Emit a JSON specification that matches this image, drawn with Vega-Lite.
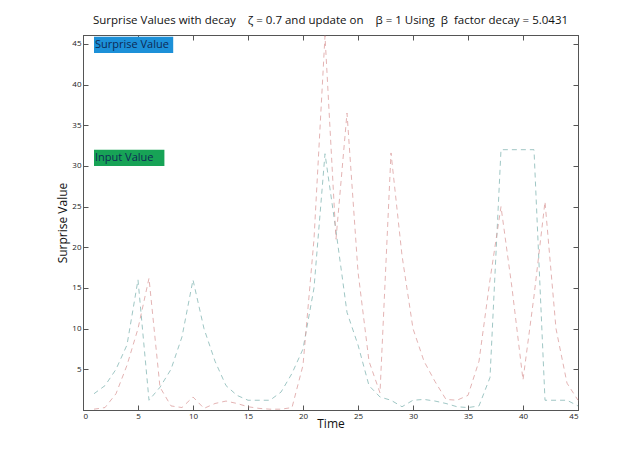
{
  "$schema": "https://vega.github.io/schema/vega-lite/v6.json",
  "autosize": {"type": "none"},
  "width": 495,
  "height": 375,
  "padding": {"left": 83, "top": 35, "right": 62, "bottom": 50},
  "background": "white",
  "config": {
    "font": "Open Sans",
    "view": {"stroke": "#555", "strokeWidth": 1},
    "axis": {"labelFont": "Open Sans", "titleFont": "Open Sans", "grid": false, "domainColor": "#555", "tickColor": "#555", "labelColor": "#222", "labelFontSize": 8, "titleFontWeight": "normal", "titleColor": "#111"}
  },
  "title": {
    "text": "Surprise Values with decay \u00a0\u00a0\u00a0ζ = 0.7 and update on \u00a0\u00a0\u00a0β = 1 Using \u00a0β \u00a0factor decay = 5.0431",
    "fontSize": 11.5, "fontWeight": "normal", "font": "Open Sans", "color": "#111", "offset": 7, "anchor": "middle"
  },
  "datasets": {
    "series": [
      {"t":1,"v":2,"s":"B"},{"t":2,"v":3,"s":"B"},{"t":3,"v":5,"s":"B"},{"t":4,"v":8,"s":"B"},{"t":5,"v":16,"s":"B"},
      {"t":6,"v":1.2,"s":"B"},{"t":7,"v":2.8,"s":"B"},{"t":8,"v":5,"s":"B"},{"t":9,"v":9,"s":"B"},{"t":10,"v":16,"s":"B"},
      {"t":11,"v":10,"s":"B"},{"t":12,"v":6,"s":"B"},{"t":13,"v":3,"s":"B"},{"t":14,"v":1.8,"s":"B"},{"t":15,"v":1.2,"s":"B"},
      {"t":16,"v":1.2,"s":"B"},{"t":17,"v":1.2,"s":"B"},{"t":18,"v":2.2,"s":"B"},{"t":19,"v":4.5,"s":"B"},{"t":20,"v":7.5,"s":"B"},
      {"t":21,"v":15,"s":"B"},{"t":22,"v":31.5,"s":"B"},{"t":23,"v":22,"s":"B"},{"t":24,"v":12,"s":"B"},{"t":25,"v":8,"s":"B"},
      {"t":26,"v":3,"s":"B"},{"t":27,"v":1.6,"s":"B"},{"t":28,"v":1.2,"s":"B"},{"t":29,"v":0.4,"s":"B"},{"t":30,"v":1.2,"s":"B"},
      {"t":31,"v":1.3,"s":"B"},{"t":32,"v":1.1,"s":"B"},{"t":33,"v":0.8,"s":"B"},{"t":34,"v":0.4,"s":"B"},{"t":35,"v":0.3,"s":"B"},
      {"t":36,"v":0.5,"s":"B"},{"t":37,"v":4,"s":"B"},{"t":38,"v":32,"s":"B"},{"t":39,"v":32,"s":"B"},{"t":40,"v":32,"s":"B"},
      {"t":41,"v":32,"s":"B"},{"t":42,"v":1.2,"s":"B"},{"t":43,"v":1.2,"s":"B"},{"t":44,"v":1.2,"s":"B"},{"t":45,"v":0.5,"s":"B"},
      {"t":1,"v":0.1,"s":"R"},{"t":2,"v":0.3,"s":"R"},{"t":3,"v":2,"s":"R"},{"t":4,"v":5.5,"s":"R"},{"t":5,"v":10,"s":"R"},
      {"t":6,"v":16.2,"s":"R"},{"t":7,"v":2.8,"s":"R"},{"t":8,"v":0.5,"s":"R"},{"t":9,"v":0.3,"s":"R"},{"t":10,"v":1.6,"s":"R"},
      {"t":11,"v":0.2,"s":"R"},{"t":12,"v":0.8,"s":"R"},{"t":13,"v":1.1,"s":"R"},{"t":14,"v":0.8,"s":"R"},{"t":15,"v":0.4,"s":"R"},
      {"t":16,"v":0.2,"s":"R"},{"t":17,"v":0.1,"s":"R"},{"t":18,"v":0.1,"s":"R"},{"t":19,"v":0.3,"s":"R"},{"t":20,"v":5.5,"s":"R"},
      {"t":21,"v":21,"s":"R"},{"t":22,"v":46,"s":"R"},{"t":23,"v":21,"s":"R"},{"t":24,"v":36.5,"s":"R"},{"t":25,"v":17,"s":"R"},
      {"t":26,"v":6,"s":"R"},{"t":27,"v":2.1,"s":"R"},{"t":28,"v":31.6,"s":"R"},{"t":29,"v":19,"s":"R"},{"t":30,"v":10,"s":"R"},
      {"t":31,"v":6,"s":"R"},{"t":32,"v":3.5,"s":"R"},{"t":33,"v":1.3,"s":"R"},{"t":34,"v":1.2,"s":"R"},{"t":35,"v":1.8,"s":"R"},
      {"t":36,"v":6,"s":"R"},{"t":37,"v":16,"s":"R"},{"t":38,"v":25,"s":"R"},{"t":39,"v":15,"s":"R"},{"t":40,"v":3.7,"s":"R"},
      {"t":41,"v":14,"s":"R"},{"t":42,"v":25.6,"s":"R"},{"t":43,"v":10,"s":"R"},{"t":44,"v":3.3,"s":"R"},{"t":45,"v":1.2,"s":"R"}
    ],
    "labels": [
      {"label":"Surprise Value","x1":1,"x2":8.2,"y1":43.9,"y2":45.9,"c":"#1c90d8"},
      {"label":"Input Value","x1":1,"x2":7.4,"y1":30,"y2":32,"c":"#17a356"}
    ]
  },
  "resolve": {"axis": {"x": "independent", "y": "independent"}},
  "layer": [
    {
      "data": {"name": "series"},
      "mark": {"type": "line", "strokeWidth": 1, "strokeDash": [5, 4], "opacity": 0.75},
      "encoding": {
        "x": {"field": "t", "type": "quantitative", "scale": {"domain": [0, 45], "nice": false},
          "axis": {"title": "Time", "titleFontSize": 12, "titlePadding": -2, "values": [0,5,10,15,20,25,30,35,40,45], "tickSize": -5, "labelPadding": 7}},
        "y": {"field": "v", "type": "quantitative", "scale": {"domain": [0, 46.1], "nice": false},
          "axis": {"title": "Surprise Value", "titleFontSize": 12, "titlePadding": 2, "values": [5,10,15,20,25,30,35,40,45], "tickSize": -5, "labelPadding": 7}},
        "color": {"field": "s", "type": "nominal", "scale": {"domain": ["B", "R"], "range": ["#7fb3b0", "#d99a9a"]}, "legend": null}
      }
    },
    {
      "data": {"name": "labels"},
      "mark": {"type": "rect"},
      "encoding": {
        "x": {"field": "x1", "type": "quantitative", "axis": {"orient": "top", "labels": false, "title": null, "values": [0,5,10,15,20,25,30,35,40,45], "tickSize": -5}},
        "x2": {"field": "x2"},
        "y": {"field": "y1", "type": "quantitative", "axis": {"orient": "right", "labels": false, "title": null, "values": [5,10,15,20,25,30,35,40,45], "tickSize": -5}},
        "y2": {"field": "y2"},
        "color": {"field": "c", "type": "nominal", "scale": null}
      }
    },
    {
      "data": {"name": "labels"},
      "mark": {"type": "text", "align": "left", "baseline": "middle", "fontSize": 11, "dx": 1, "color": "#0d2a55"},
      "encoding": {
        "x": {"field": "x1", "type": "quantitative", "axis": null},
        "y": {"field": "y1", "type": "quantitative", "axis": null},
        "yOffset": {"value": -8},
        "text": {"field": "label"}
      }
    }
  ]
}
